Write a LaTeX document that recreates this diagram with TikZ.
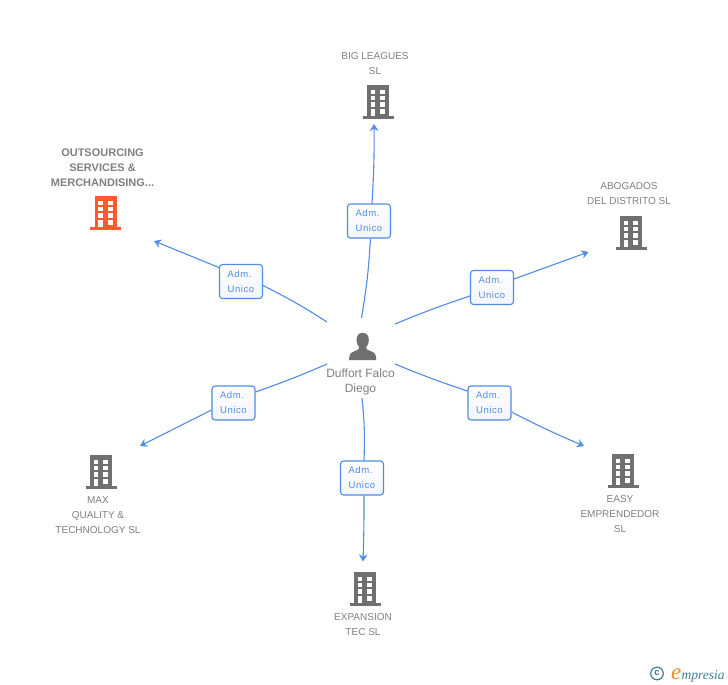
\documentclass[tikz,border=0pt]{standalone}
\usepackage{fontspec}
\setmainfont{Liberation Sans}
\newfontfamily\lblfont[LetterSpace=6]{Liberation Sans}
\newfontfamily\logofont{Liberation Serif}
\usetikzlibrary{arrows.meta,backgrounds}
\definecolor{linkblue}{HTML}{4F8CE4}
\definecolor{txtgrey}{HTML}{808080}
\definecolor{bldgrey}{HTML}{707070}
\definecolor{bldorange}{HTML}{FF5A2C}
\definecolor{logoteal}{HTML}{3F7F99}
\definecolor{logoorange}{HTML}{F08A1D}
\definecolor{boxbottom}{HTML}{F1F5FB}
\tikzset{
  x=1pt,y=-1pt,
  link/.style={draw=linkblue,line width=1.1pt},
  linkarrow/.style={link,-{Stealth[length=7pt,width=8.5pt]}},
  rolebox/.style={draw=linkblue,top color=white,bottom color=boxbottom,rounded corners=3pt,line width=1.1pt,
    minimum width=43pt,minimum height=34pt,inner sep=0pt,align=center,text=linkblue,
    font=\lblfont\fontsize{9.5}{15}\selectfont},
  entname/.style={align=center,text=txtgrey,inner sep=0pt,font=\fontsize{10}{15}\selectfont},
  boldname/.style={entname,font=\bfseries\fontsize{11}{15}\selectfont},
  pics/bldg/.style={code={
    \fill[#1] (-11,0) rectangle (11,31);
    \fill[#1] (-15.5,31) rectangle (15.5,33.5);
    \foreach \yy in {4.5,10.8,17.3,24}{
      \fill[white] (-7.3,\yy) rectangle (-2.6,\yy+4.5);
    }
    \foreach \yy in {4.5,10.8,17.3,24}{
      \fill[white] (2.3,\yy) rectangle (7,\yy+4.5);
    }
    \fill[white] (-7.3,24) rectangle (-2.6,31);
  }}
}
\begin{document}
\begin{tikzpicture}
\useasboundingbox (0,0) rectangle (728,685);
% buildings
\pic at (378,85) {bldg=bldgrey};
\pic at (105.5,196) {bldg=bldorange};
\pic at (631,216) {bldg=bldgrey};
\pic at (623,454) {bldg=bldgrey};
\pic at (101,455) {bldg=bldgrey};
\pic at (365,572) {bldg=bldgrey};
% names
\node[entname] (nbig) at (375,64) {BIG LEAGUES\\SL};
\node[boldname] (nout) at (102.5,167.5) {OUTSOURCING\\SERVICES \&\\MERCHANDISING...};
\node[entname] (nabo) at (629,194) {ABOGADOS\\DEL DISTRITO SL};
\node[entname] (neasy) at (620,514.5) {EASY\\EMPRENDEDOR\\SL};
\node[entname] (nmax) at (98,515.5) {MAX\\QUALITY \&\\TECHNOLOGY SL};
\node[entname] (nexp) at (363,625) {EXPANSION\\TEC SL};
\node[entname,font=\fontsize{12}{15}\selectfont] (nper) at (360.5,382) {Duffort Falco\\Diego};
% person
\fill[bldgrey] (362.7,332.8) .. controls (358,332.8) and (356.5,336.5) .. (356.6,340)
  .. controls (356.7,343.5) and (358,346) .. (359.3,347.3)
  .. controls (359.5,349) and (358,350) .. (355,351)
  .. controls (351,352.3) and (349.3,353.5) .. (349,360)
  -- (376.3,360)
  .. controls (376,353.5) and (374.3,352.3) .. (370.3,351)
  .. controls (367.3,350) and (365.8,349) .. (366,347.3)
  .. controls (367.4,346) and (368.7,343.5) .. (368.8,340)
  .. controls (368.9,336.5) and (367.4,332.8) .. (362.7,332.8) -- cycle;
% role boxes
\node[rolebox] (rbig) at (369,221) {Adm.\hspace*{3pt}\\Unico};
\node[rolebox] (rout) at (241,281.5) {Adm.\hspace*{3pt}\\Unico};
\node[rolebox] (rabo) at (492,287.5) {Adm.\hspace*{3pt}\\Unico};
\node[rolebox] (reasy) at (489.5,403) {Adm.\hspace*{3pt}\\Unico};
\node[rolebox] (rexp) at (362,478) {Adm.\hspace*{3pt}\\Unico};
\node[rolebox] (rmax) at (233.5,403) {Adm.\hspace*{3pt}\\Unico};
% free connector ends
\coordinate (sbig) at (361.5,318);
\coordinate (sout) at (327,322);
\coordinate (sabo) at (395,324);
\coordinate (seasy) at (395,364);
\coordinate (sexp) at (362,398);
\coordinate (smax) at (327,364);
\coordinate (tbig) at (374,124);
\coordinate (tout) at (154,241);
\coordinate (tabo) at (588.5,252);
\coordinate (teasy) at (584,446);
\coordinate (texp) at (363,561.5);
\coordinate (tmax) at (140,446);
% connectors
\begin{scope}[on background layer]
\fill[white] (0,0) rectangle (728,685);
\draw[link] (sbig) to[bend right=3] ([xshift=1.5pt]rbig.south);
\draw[linkarrow] ([xshift=3pt]rbig.north) to[bend right=2] (tbig);
\draw[link] (sout) to[bend right=3] ([yshift=-4pt]rout.east);
\draw[linkarrow] ([yshift=14pt]rout.west) to (tout);
\draw[link] (sabo) to[bend left=2] ([yshift=-8.5pt]rabo.west);
\draw[linkarrow] ([yshift=8.5pt]rabo.east) to (tabo);
\draw[link] (seasy) to[bend right=2] ([yshift=12pt]reasy.west);
\draw[linkarrow] ([yshift=-9pt]reasy.east) to[bend right=2] (teasy);
\draw[link] (sexp) to[bend left=4] ([xshift=2pt]rexp.north);
\draw[linkarrow] ([xshift=2pt]rexp.south) to[bend left=1] (texp);
\draw[link] (smax) to[bend left=2] ([yshift=11pt]rmax.east);
\draw[linkarrow] ([yshift=-7pt]rmax.west) to (tmax);
\end{scope}
% logo
\draw[logoteal,line width=1.2pt] (657,673.5) circle (6.3pt);
\node[inner sep=0pt,text=logoteal,font=\bfseries\fontsize{9.5}{9.5}\selectfont] (lc) at (657,673.2) {c};
\node[inner sep=0pt,anchor=base west,text=logoorange,font=\logofont\itshape\fontsize{23}{23}\selectfont] (le) at (671,679) {e};
\node[inner sep=0pt,anchor=base west,text=logoteal,font=\logofont\itshape\fontsize{13.5}{13.5}\selectfont] (lm) at (681.5,679) {mpresia};
\end{tikzpicture}
\end{document}
